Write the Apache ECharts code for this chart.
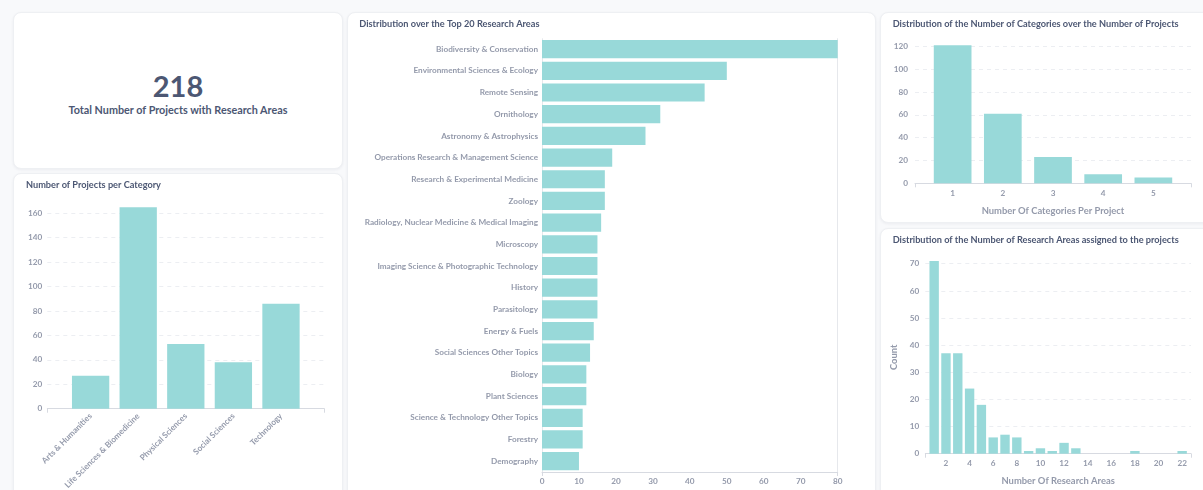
<!DOCTYPE html>
<html>
<head>
<meta charset="utf-8">
<title>Research Areas Dashboard</title>
<script src="https://cdn.jsdelivr.net/npm/echarts@6/dist/echarts.min.js"></script>
<style>
  html, body { margin: 0; padding: 0; }
  body {
    width: 1203px; height: 490px; overflow: hidden; position: relative;
    background: #f8f9fb; font-family: Lato, "Noto Sans", sans-serif;
  }
  .card {
    position: absolute; background: #ffffff; border-radius: 8px;
    border: 1px solid #eef0f3; box-shadow: 0 1px 3px rgba(30, 40, 70, 0.06);
    box-sizing: border-box; overflow: hidden;
  }
  .chart { position: absolute; left: 0; top: 0; width: 100%; height: 100%; }
  .kpi-value {
    position: absolute; left: 0; width: 100%; text-align: center;
    font-weight: 700; font-size: 29px; line-height: 30px; color: #4c5773;
  }
  .kpi-label {
    position: absolute; left: 0; width: 100%; text-align: center;
    font-weight: 700; font-size: 10.8px; line-height: 11px; color: #4c5773;
  }
</style>
</head>
<body>
<div class="card" style="left:13px;top:12px;width:330px;height:157px;">
  <div class="kpi-value" id="kpiValue" style="top:58px;"></div>
  <div class="kpi-label" id="kpiLabel" style="top:91px;"></div>
</div>
<div class="card" style="left:13px;top:173px;width:330px;height:340px;"><div class="chart" id="perCategory"></div></div>
<div class="card" style="left:347px;top:12px;width:529px;height:500px;"><div class="chart" id="topAreas"></div></div>
<div class="card" style="left:880px;top:12px;width:340px;height:211px;"><div class="chart" id="categoryCount"></div></div>
<div class="card" style="left:880px;top:228px;width:340px;height:290px;"><div class="chart" id="areaCount"></div></div>

<script>
// ---- data ----
const totalProjects = 218;
const totalLabel = 'Total Number of Projects with Research Areas';

const categoryNames = ['Arts & Humanities', 'Life Sciences & Biomedicine', 'Physical Sciences', 'Social Sciences', 'Technology'];
const categoryCounts = [27, 165, 53, 38, 86];

const researchAreas = [
  'Biodiversity & Conservation', 'Environmental Sciences & Ecology', 'Remote Sensing', 'Ornithology',
  'Astronomy & Astrophysics', 'Operations Research & Management Science', 'Research & Experimental Medicine',
  'Zoology', 'Radiology, Nuclear Medicine & Medical Imaging', 'Microscopy',
  'Imaging Science & Photographic Technology', 'History', 'Parasitology', 'Energy & Fuels',
  'Social Sciences Other Topics', 'Biology', 'Plant Sciences', 'Science & Technology Other Topics',
  'Forestry', 'Demography'
];
const researchAreaCounts = [80, 50, 44, 32, 28, 19, 17, 17, 16, 15, 15, 15, 15, 14, 13, 12, 12, 11, 11, 10];

const categoriesPerProject = [1, 2, 3, 4, 5];
const projectsByCategoryCount = [121, 61, 23, 8, 5];

const areasPerProject = [1, 2, 3, 4, 5, 6, 7, 8, 9, 10, 11, 12, 13, 18, 22];
const projectsByAreaCount = [71, 37, 37, 24, 18, 6, 7, 6, 1, 2, 1, 4, 2, 1, 1];
const areaTickLabels = [2, 4, 6, 8, 10, 12, 14, 16, 18, 20, 22];

// ---- shared style ----
const FONT = 'Lato, "Noto Sans", sans-serif';
const BAR = '#98d9d9';
const TITLE_COLOR = '#4c5773';
const LABEL_COLOR = '#949aab';
const AXIS_COLOR = '#d7dae1';
const GRID_COLOR = '#eceef2';

function title(text, left, top) {
  return {
    text, left, top, padding: 0,
    textStyle: { fontFamily: FONT, fontSize: 9.2, fontWeight: 700, color: TITLE_COLOR }
  };
}
const labelStyle = { fontFamily: FONT, fontSize: 8.2, fontWeight: 700, color: LABEL_COLOR };
const nameStyle = { fontFamily: FONT, fontSize: 9.4, fontWeight: 700, color: LABEL_COLOR };
const axisLine = { show: true, lineStyle: { color: AXIS_COLOR, width: 1 } };
const endTicks = (lo, hi) => ({ show: true, length: 4, customValues: [lo, hi], lineStyle: { color: AXIS_COLOR } });
const valueY = (max, interval, margin) => ({
  type: 'value', min: 0, max, interval,
  axisLine: { show: false }, axisTick: { show: false },
  axisLabel: Object.assign({ margin, showMaxLabel: false }, labelStyle),
  splitLine: { show: true, showMaxLine: false, lineStyle: { color: GRID_COLOR, type: [4, 4] } }
});

// ---- KPI ----
document.getElementById('kpiValue').textContent = totalProjects;
document.getElementById('kpiLabel').textContent = totalLabel;

// ---- projects per category (ordinal positions on a padded linear axis) ----
const catIdx = categoryNames.map((_, i) => i);
echarts.init(document.getElementById('perCategory')).setOption({
  animation: false,
  title: title('Number of Projects per Category', 12, 7),
  grid: { left: 33.3, top: 33.2, width: 277, height: 201.5 },
  xAxis: {
    type: 'value', min: -0.91, max: categoryNames.length - 1 + 0.91,
    axisLine, axisTick: endTicks(-0.91, categoryNames.length - 1 + 0.91), splitLine: { show: false },
    axisLabel: Object.assign({
      customValues: catIdx, rotate: 45, margin: 6,
      formatter: v => categoryNames[Math.round(v)]
    }, labelStyle)
  },
  yAxis: valueY(165, 20, 5),
  series: [{
    type: 'bar', barWidth: 37.3, itemStyle: { color: BAR },
    data: categoryCounts.map((c, i) => [catIdx[i], c])
  }]
});

// ---- top 20 research areas ----
echarts.init(document.getElementById('topAreas')).setOption({
  animation: false,
  title: title('Distribution over the Top 20 Research Areas', 11.3, 6.5),
  grid: { left: 194, top: 25.3, width: 295.7, height: 433.7 },
  xAxis: {
    type: 'value', min: 0, max: 80, interval: 10,
    axisLine, axisTick: endTicks(0, 80),
    axisLabel: Object.assign({ margin: 5 }, labelStyle),
    splitLine: { show: true, lineStyle: { color: '#e6e8ec', width: 1 } }
  },
  yAxis: {
    type: 'category', inverse: true, data: researchAreas,
    axisLine: { show: false }, axisTick: { show: false },
    axisLabel: Object.assign({ margin: 4 }, labelStyle)
  },
  series: [{
    type: 'bar', data: researchAreaCounts, barCategoryGap: '16%',
    itemStyle: { color: BAR }
  }]
});

// ---- number of categories per project ----
echarts.init(document.getElementById('categoryCount')).setOption({
  animation: false,
  title: title('Distribution of the Number of Categories over the Number of Projects', 11.7, 6.5),
  grid: { left: 34, top: 32.2, width: 276, height: 138.1 },
  xAxis: {
    type: 'value', min: 0.25, max: 5.75,
    name: 'Number Of Categories Per Project', nameLocation: 'middle', nameGap: 23, nameTextStyle: nameStyle,
    axisLine, axisTick: endTicks(0.25, 5.75), splitLine: { show: false },
    axisLabel: Object.assign({ customValues: categoriesPerProject, margin: 6 }, labelStyle)
  },
  yAxis: valueY(121, 20, 7),
  series: [{
    type: 'bar', barWidth: 37.7, itemStyle: { color: BAR },
    data: categoriesPerProject.map((k, i) => [k, projectsByCategoryCount[i]])
  }]
});

// ---- number of research areas per project ----
echarts.init(document.getElementById('areaCount')).setOption({
  animation: false,
  title: title('Distribution of the Number of Research Areas assigned to the projects', 11.7, 6.5),
  grid: { left: 44.3, top: 32, width: 265.7, height: 192.7 },
  xAxis: {
    type: 'value', min: 0.25, max: 22.75,
    name: 'Number Of Research Areas', nameLocation: 'middle', nameGap: 23, nameTextStyle: nameStyle,
    axisLine, axisTick: endTicks(0.25, 22.75), splitLine: { show: false },
    axisLabel: Object.assign({ customValues: areaTickLabels, margin: 6 }, labelStyle)
  },
  yAxis: Object.assign(valueY(71, 10, 6), {
    name: 'Count', nameLocation: 'middle', nameGap: 17, nameTextStyle: nameStyle
  }),
  series: [{
    type: 'bar', barWidth: 9.4, itemStyle: { color: BAR },
    data: areasPerProject.map((k, i) => [k, projectsByAreaCount[i]])
  }]
});
</script>
</body>
</html>
